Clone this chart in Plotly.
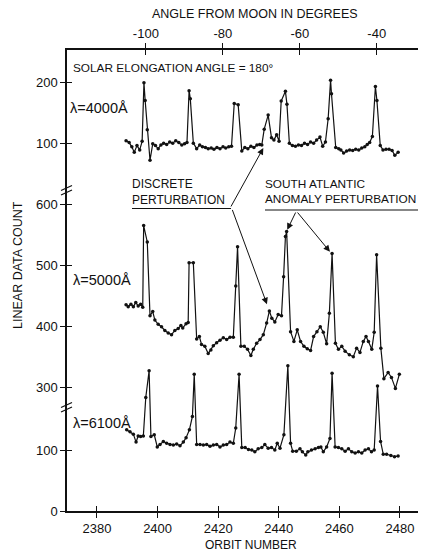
import plotly.graph_objects as go

# ---------------- data ----------------
orbit_4000 = [2389.6, 2390.6, 2391.5, 2392.3, 2393.2, 2394.1, 2394.9, 2395.5, 2395.9, 2396.6,
              2397.5, 2398.4, 2399.3, 2400.2, 2401.1, 2402.0, 2403.0, 2404.0, 2405.0, 2406.0,
              2407.0, 2408.0, 2408.9, 2409.7, 2410.4, 2410.8, 2411.8, 2412.9, 2413.9, 2414.8,
              2415.8, 2416.7, 2417.7, 2418.6, 2419.6, 2420.6, 2421.6, 2422.5, 2423.5, 2424.4,
              2425.3, 2426.6, 2427.8, 2428.8, 2429.8, 2430.8, 2431.8, 2432.8, 2433.7, 2434.4,
              2435.2, 2436.5, 2437.6, 2438.4, 2439.3, 2440.1, 2440.8, 2442.2, 2442.7, 2443.5,
              2444.5, 2445.5, 2446.5, 2447.5, 2448.5, 2449.5, 2450.5, 2451.5, 2452.5, 2453.6,
              2454.5, 2455.4, 2456.3, 2457.1, 2457.4, 2458.8, 2459.8, 2460.5, 2461.4, 2462.4,
              2463.4, 2464.4, 2465.4, 2466.4, 2467.4, 2468.4, 2469.2, 2470.0, 2470.9, 2471.9,
              2472.4, 2473.5, 2474.4, 2475.4, 2476.4, 2477.4, 2478.3, 2479.4]
count_4000 = [105, 102, 95, 86, 97, 90, 104, 200, 171, 123,
              73, 100, 97, 92, 98, 101, 99, 103, 101, 105,
              102, 98, 100, 102, 187, 174, 101, 92, 98, 95,
              94, 92, 93, 91, 94, 92, 95, 93, 95, 96,
              166, 164, 88, 94, 92, 96, 94, 98, 99, 98,
              124, 147, 110, 106, 115, 104, 170, 186, 165, 101,
              97, 96, 98, 97, 101, 99, 103, 101, 106, 111,
              96, 103, 141, 204, 182, 94, 92, 90, 85, 88,
              90, 89, 91, 90, 93, 95, 99, 102, 112, 194,
              171, 97, 90, 91, 91, 89, 81, 86]

orbit_5000 = [2389.6, 2390.3, 2391.2, 2392.0, 2392.8, 2393.6, 2394.4, 2395.1, 2395.4, 2396.6,
              2397.5, 2398.4, 2399.1, 2400.2, 2401.3, 2402.4, 2403.5, 2404.6, 2405.7, 2406.8,
              2407.7, 2408.3, 2409.4, 2410.1, 2410.4, 2411.8, 2412.9, 2413.8, 2414.5, 2415.6,
              2416.7, 2417.6, 2418.4, 2419.5, 2420.6, 2421.7, 2422.8, 2423.9, 2425.0, 2425.8,
              2426.4, 2427.5, 2428.6, 2429.7, 2430.8, 2431.6, 2432.7, 2433.8, 2434.9, 2436.0,
              2436.9, 2437.7, 2438.7, 2439.8, 2440.9, 2441.6, 2442.2, 2442.6, 2443.9, 2445.0,
              2446.1, 2447.2, 2448.3, 2449.4, 2450.5, 2451.5, 2452.6, 2453.7, 2454.7, 2455.8,
              2456.7, 2457.6, 2458.7, 2459.7, 2460.8, 2461.9, 2463.3, 2464.6, 2465.7, 2466.8,
              2467.9, 2468.8, 2469.6, 2470.7, 2471.5, 2472.3, 2473.7, 2474.7, 2476.1, 2477.2,
              2478.5, 2479.8]
count_5000 = [436, 433, 437, 433, 440, 434, 437, 432, 566, 539,
              418, 425, 411, 404, 400, 394, 390, 387, 394, 397,
              402, 398, 405, 407, 505, 505, 380, 384, 371, 368,
              356, 362, 369, 374, 378, 382, 379, 383, 383, 467,
              531, 368, 368, 363, 353, 363, 373, 379, 387, 406,
              426, 414, 408, 420, 418, 482, 548, 556, 392, 376,
              395, 376, 368, 364, 361, 384, 392, 400, 391, 372,
              422, 520, 373, 363, 368, 360, 354, 351, 365, 358,
              376, 384, 376, 363, 391, 518, 365, 315, 325, 317,
              299, 322]

orbit_6100 = [2389.8, 2390.9, 2392.0, 2392.9, 2393.6, 2394.4, 2395.3, 2396.1, 2397.2, 2397.8,
              2398.9, 2399.9, 2400.8, 2401.9, 2403.0, 2404.1, 2405.2, 2406.3, 2407.4, 2408.5,
              2409.4, 2410.5, 2411.5, 2412.1, 2412.9, 2414.0, 2415.1, 2416.2, 2417.3, 2418.4,
              2419.5, 2420.6, 2421.7, 2422.8, 2423.9, 2425.0, 2425.8, 2426.9, 2427.8, 2428.9,
              2430.0, 2431.1, 2432.1, 2433.2, 2434.4, 2435.4, 2436.5, 2437.6, 2438.7, 2439.5,
              2440.4, 2441.7, 2443.0, 2443.9, 2444.6, 2445.8, 2447.0, 2447.8, 2448.9, 2449.6,
              2450.8, 2452.0, 2453.1, 2453.9, 2454.7, 2455.8, 2456.9, 2457.6, 2458.6, 2459.7,
              2460.8, 2461.9, 2463.0, 2464.1, 2465.2, 2466.3, 2467.4, 2468.5, 2469.6, 2470.6,
              2471.5, 2472.6, 2473.6, 2474.5, 2475.6, 2477.0, 2478.2, 2479.4]
count_6100 = [133, 130, 126, 113, 123, 122, 123, 186, 230, 122,
              125, 105, 109, 114, 111, 109, 108, 110, 107, 113,
              120, 133, 155, 224, 109, 109, 108, 109, 106, 108,
              109, 105, 108, 109, 113, 111, 136, 224, 104, 104,
              101, 100, 97, 102, 104, 109, 103, 104, 100, 111,
              103, 125, 238, 111, 98, 98, 102, 97, 92, 97,
              100, 102, 104, 105, 97, 105, 119, 226, 105, 104,
              102, 98, 102, 97, 95, 97, 95, 100, 102, 97,
              100, 205, 114, 93, 93, 91, 89, 90]

# broken y axis: each band is shifted on a common scale
offset_4000 = 502
offset_5000 = -98
offset_6100 = 0

y_tick_labels = ["0", "100", "300", "400", "500", "600", "100", "200"]
y_tick_counts = [0, 100, 300, 400, 500, 600, 100, 200]
y_tick_offsets = [offset_6100, offset_6100, offset_5000, offset_5000,
                  offset_5000, offset_5000, offset_4000, offset_4000]

x_ticks = [2380, 2400, 2420, 2440, 2460, 2480]
angle_ticks = [-100, -80, -60, -40]
angle_tick_labels = ["-100", "-80", "-60", "-40"]

# ---------------- layout geometry ----------------
# the page body has an 8 px margin, so the figure is drawn 8 px in from the corner
M = 8
W, H = 426 - M, 553 - M
L, R, T, B = 67 - M, 0, 50 - M, 42
PW, PH = W - L - R, H - T - B
x_range = [2370.1, 2488.6]
angle_range = [-120.5, -27.2]
y_range = [0, PH / 0.61]

FONT = "Liberation Sans, Arial, sans-serif"
BLACK = "#111111"


def px(xp):
    """page pixel x -> paper fraction"""
    return (xp - M - L) / PW


def py(yp):
    """page pixel y -> paper fraction"""
    return (H - B - (yp - M)) / PH


def shift(vals, off):
    return [v + off for v in vals]


fig = go.Figure()
for xs, ys, off in [(orbit_4000, count_4000, offset_4000),
                    (orbit_5000, count_5000, offset_5000),
                    (orbit_6100, count_6100, offset_6100)]:
    fig.add_trace(go.Scatter(x=xs, y=shift(ys, off), mode="lines+markers",
                             line=dict(color=BLACK, width=1.2),
                             marker=dict(color=BLACK, size=3.5),
                             showlegend=False, hoverinfo="skip"))

y_tick_vals = [c + o for c, o in zip(y_tick_counts, y_tick_offsets)]

common = dict(showgrid=False, zeroline=False, color=BLACK,
              tickfont=dict(family=FONT, size=13, color=BLACK))

fig.update_layout(
    width=W, height=H, margin=dict(l=L, r=R, t=T, b=B, pad=0),
    paper_bgcolor="white", plot_bgcolor="white",
    font=dict(family=FONT, size=12, color=BLACK),
    xaxis=dict(range=x_range, tickvals=x_ticks, ticks="outside", ticklen=5,
               tickwidth=1.3, showline=True, linewidth=1.5, linecolor=BLACK, **common),
    xaxis3=dict(range=x_range, overlaying="x", anchor="y", side="bottom", tickvals=x_ticks,
                ticks="inside", ticklen=5, tickwidth=1.3, showticklabels=False,
                showline=False, **common),
    xaxis2=dict(range=angle_range, overlaying="x", anchor="y", side="top",
                tickvals=angle_ticks, ticktext=angle_tick_labels, ticks="outside",
                ticklen=5, tickwidth=1.3, showline=True, linewidth=1.5, linecolor=BLACK,
                **common),
    xaxis4=dict(range=angle_range, overlaying="x", anchor="y", side="top",
                tickvals=angle_ticks, ticks="inside", ticklen=5, tickwidth=1.3,
                showticklabels=False, showline=False, **common),
    yaxis=dict(range=y_range, tickvals=y_tick_vals, ticktext=y_tick_labels,
               ticks="outside", ticklen=5, tickwidth=1.3, showline=True,
               linewidth=1.5, linecolor=BLACK, **common),
    yaxis2=dict(range=y_range, overlaying="y", anchor="x", side="left",
                tickvals=y_tick_vals, ticks="inside", ticklen=5, tickwidth=1.3,
                showticklabels=False, showline=False, **common),
    yaxis3=dict(range=y_range, overlaying="y", anchor="x", side="right",
                tickvals=y_tick_vals, ticks="inside", ticklen=5, tickwidth=1.3,
                showticklabels=False, showline=False, **common),
)

# invisible traces so the helper axes are drawn
fig.add_trace(go.Scatter(x=[x_range[0]], y=[0], xaxis="x3", yaxis="y2", mode="markers",
                         marker=dict(opacity=0), showlegend=False, hoverinfo="skip"))
fig.add_trace(go.Scatter(x=[angle_range[0]], y=[0], xaxis="x2", yaxis="y3", mode="markers",
                         marker=dict(opacity=0), showlegend=False, hoverinfo="skip"))
fig.add_trace(go.Scatter(x=[angle_range[0]], y=[0], xaxis="x4", yaxis="y", mode="markers",
                         marker=dict(opacity=0), showlegend=False, hoverinfo="skip"))


def text(t, xp, yp, anchor="left", size=12, angle=0):
    fig.add_annotation(text=t, x=px(xp), y=py(yp), xref="paper", yref="paper",
                       xanchor=anchor, yanchor="middle", showarrow=False, align=anchor,
                       textangle=angle, font=dict(family=FONT, size=size, color=BLACK))


text("ANGLE FROM MOON IN DEGREES", 255.5, 14, anchor="center", size=12.5)
text("ORBIT NUMBER", 251, 545, anchor="center", size=12)
text("LINEAR DATA COUNT", 18, 265, anchor="center", size=12.5, angle=-90)
text("SOLAR ELONGATION ANGLE = 180°", 71, 68, size=11.8)
text("λ=4000Å", 68, 108, size=14.5)
text("λ=5000Å", 71, 280, size=14.5)
text("λ=6100Å", 71, 423, size=14.5)
text("DISCRETE<br>PERTURBATION", 130, 192, size=12)
text("SOUTH ATLANTIC<br>ANOMALY PERTURBATION", 263, 192, size=11.8)

# underlines of the labels
for x0, x1, yy in [(132, 231, 208.5), (265, 419, 210)]:
    fig.add_shape(type="line", xref="paper", yref="paper", x0=px(x0), x1=px(x1),
                  y0=py(yy), y1=py(yy), line=dict(color=BLACK, width=1.2))

# arrows (tail -> head) in data coordinates
arrows = [
    ((2423.95, 496.7), (2434.9, 93 + offset_4000)),
    ((2424.5, 496.0), (2436.1, 437 + offset_5000)),
    ((2445.8, 491.8), (2442.8, 559 + offset_5000)),
    ((2445.8, 491.8), (2456.9, 523 + offset_5000)),
]
for (ax, ay), (hx, hy) in arrows:
    fig.add_annotation(x=hx, y=hy, ax=ax, ay=ay, xref="x", yref="y", axref="x", ayref="y",
                       text="", showarrow=True, arrowhead=2, arrowsize=1.3,
                       arrowwidth=1, arrowcolor=BLACK, standoff=0)

# axis break marks
for yb in [188, 405]:
    for d in [0, 4.5]:
        fig.add_shape(type="line", xref="paper", yref="paper",
                      x0=px(61), x1=px(72), y0=py(yb + 2.5 + d), y1=py(yb - 2.5 + d),
                      line=dict(color=BLACK, width=1.2))

fig.write_html("out.html")
